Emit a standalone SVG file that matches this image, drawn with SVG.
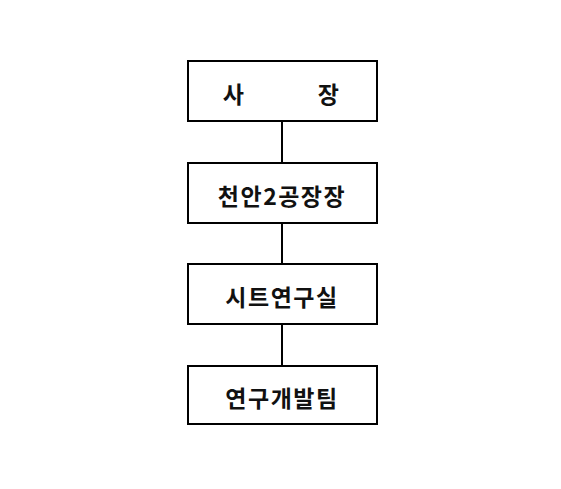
<svg xmlns="http://www.w3.org/2000/svg" width="561" height="489" viewBox="0 0 561 489">
<style>
.box{fill:#fff;stroke:#000;stroke-width:2}
.lbl{font-family:"Noto Sans CJK KR","Noto Sans",sans-serif;font-size:23px;font-weight:bold;fill:#111;text-anchor:middle;dominant-baseline:central;letter-spacing:1.5px}
.conn{stroke:#000;stroke-width:2;fill:none}
</style>
<rect width="561" height="489" fill="#fff"/>
<g id="connectors">
<line class="conn" x1="282" y1="121" x2="282" y2="163"/>
<line class="conn" x1="282" y1="223" x2="282" y2="264"/>
<line class="conn" x1="282" y1="324" x2="282" y2="366"/>
</g>
<g id="n1">
<rect class="box" x="188" y="61" width="189" height="60"/>
<text class="lbl" y="93"><tspan x="234">사</tspan><tspan x="329">장</tspan></text>
</g>
<g id="n2">
<rect class="box" x="188" y="163" width="189" height="60"/>
<text class="lbl" x="282" y="195">천안2공장장</text>
</g>
<g id="n3">
<rect class="box" x="188" y="264" width="189" height="60"/>
<text class="lbl" x="282" y="296">시트연구실</text>
</g>
<g id="n4">
<rect class="box" x="188" y="366" width="189" height="58"/>
<text class="lbl" x="282" y="397">연구개발팀</text>
</g>
</svg>
